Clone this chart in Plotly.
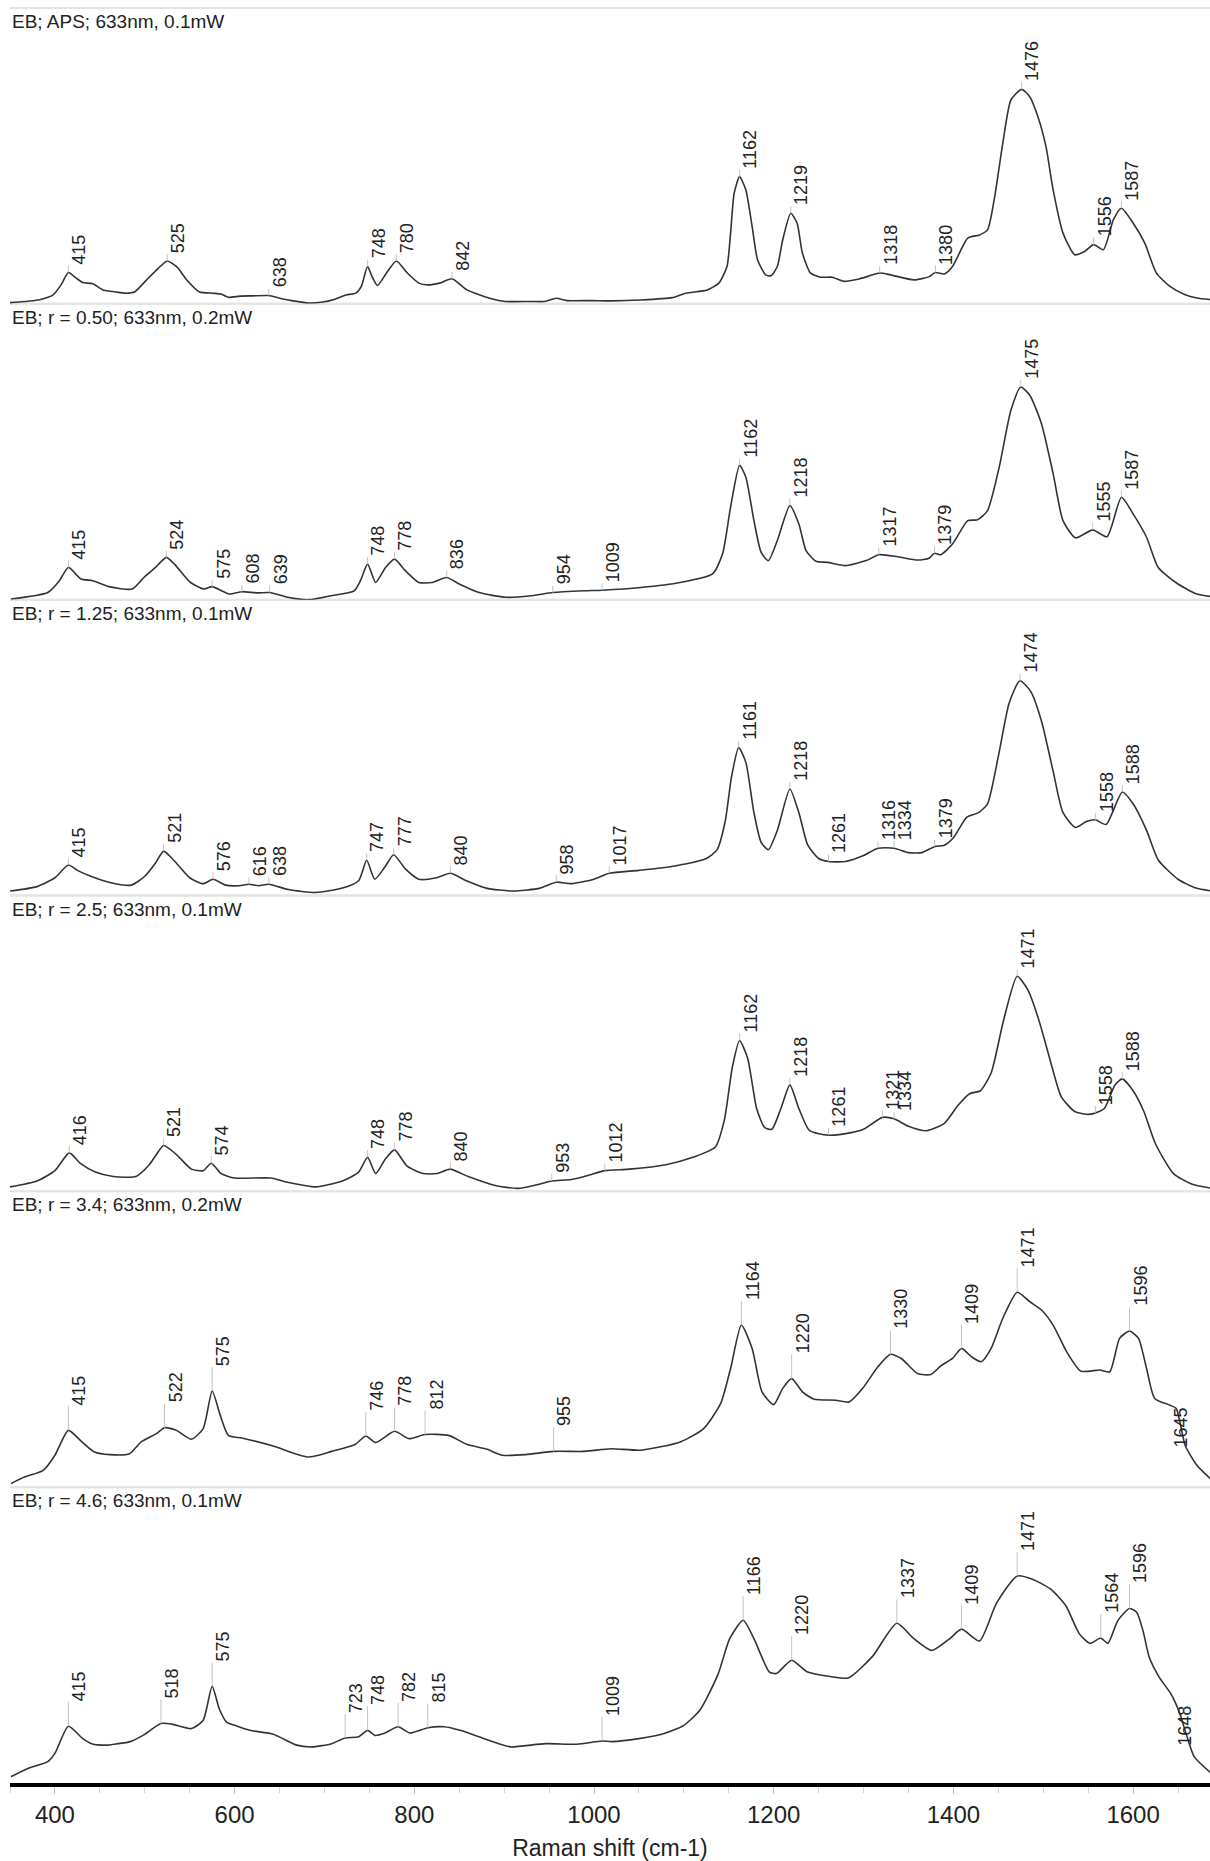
import numpy as np
import plotly.graph_objects as go
from plotly.subplots import make_subplots

# ---------------- data (relative intensity, % of panel height) ----------------
titles = [
    "EB; APS; 633nm, 0.1mW",
    "EB; r = 0.50; 633nm, 0.2mW",
    "EB; r = 1.25; 633nm, 0.1mW",
    "EB; r = 2.5; 633nm, 0.1mW",
    "EB; r = 3.4; 633nm, 0.2mW",
    "EB; r = 4.6; 633nm, 0.1mW",
]

p1_x = [350, 383, 398, 407, 415, 424, 431, 442, 453, 468, 479, 489, 502, 515, 525, 536, 547, 561, 576, 585,
        593, 606, 620, 638, 650, 665, 683, 698, 710, 724, 735, 741, 748, 753, 759, 769, 780, 792, 805, 815,
        828, 842, 858, 873, 884, 901, 930, 945, 958, 970, 997, 1020, 1052, 1087, 1102, 1126, 1139, 1148, 1152, 1156,
        1162, 1169, 1176, 1182, 1191, 1197, 1204, 1210, 1219, 1226, 1232, 1241, 1252, 1265, 1278, 1295, 1318, 1330, 1356, 1373,
        1380, 1390, 1399, 1416, 1429, 1438, 1446, 1455, 1464, 1476, 1485, 1494, 1503, 1511, 1522, 1535, 1546, 1556, 1567, 1578,
        1587, 1600, 1613, 1626, 1641, 1658, 1671, 1688]
p1_y = [0.4, 1.4, 3.0, 6.5, 10.6, 8.6, 7.2, 6.8, 4.8, 4.0, 3.6, 4.1, 8.1, 12.0, 14.5, 12.4, 8.0, 4.0, 3.6, 3.3,
        2.2, 2.6, 2.7, 2.8, 1.9, 1.0, 0.3, 0.6, 1.4, 3.0, 3.6, 5.9, 12.6, 9.2, 6.2, 10.4, 14.5, 10.5, 7.0, 6.4,
        7.0, 8.5, 4.8, 3.0, 1.9, 0.8, 0.8, 0.8, 1.9, 1.1, 1.1, 1.0, 1.3, 2.1, 3.6, 4.7, 7.0, 12.6, 23.9, 37.4,
        43.0, 38.5, 26.1, 14.9, 9.8, 9.5, 12.6, 21.6, 30.6, 27.3, 17.1, 10.4, 9.0, 9.0, 7.6, 8.4, 10.4, 9.8, 8.1, 9.2,
        10.6, 10.1, 12.6, 22.2, 23.3, 25.0, 36.3, 54.3, 68.9, 72.5, 70.0, 63.3, 53.2, 38.5, 23.9, 16.6, 17.7, 20.0, 18.3, 28.4,
        32.3, 27.3, 20.5, 10.4, 5.9, 3.1, 2.0, 1.4]

p2_x = [351, 392, 405, 415, 429, 442, 460, 486, 499, 512, 524, 533, 551, 566, 575, 594, 608, 625, 639, 659,
        683, 707, 733, 740, 748, 757, 768, 778, 790, 805, 820, 836, 850, 872, 902, 930, 954, 989, 1009, 1052,
        1096, 1132, 1143, 1152, 1162, 1169, 1178, 1186, 1194, 1204, 1218, 1228, 1236, 1247, 1260, 1280, 1303, 1317, 1338, 1360,
        1373, 1379, 1386, 1399, 1416, 1427, 1438, 1451, 1464, 1475, 1485, 1498, 1511, 1522, 1536, 1555, 1571, 1587, 1600, 1615,
        1628, 1650, 1671, 1688]
p2_y = [0.2, 2.4, 6.4, 10.9, 7.0, 6.4, 4.4, 3.6, 7.5, 10.9, 14.3, 12.0, 5.8, 3.6, 4.4, 1.9, 2.7, 2.3, 2.4, 0.8,
        0.0, 1.3, 3.0, 6.4, 12.0, 5.8, 10.9, 13.7, 9.8, 5.8, 5.8, 7.5, 5.3, 2.4, 0.8, 1.3, 2.4, 3.0, 3.2, 4.1,
        5.8, 8.7, 15.4, 31.3, 45.4, 41.4, 26.7, 16.0, 13.2, 20.0, 31.8, 25.6, 16.6, 13.0, 12.6, 11.5, 13.2, 15.2, 14.5, 13.4,
        14.0, 15.7, 15.2, 18.8, 26.7, 27.0, 30.1, 44.8, 64.0, 71.9, 69.1, 59.5, 42.6, 26.7, 20.9, 23.6, 21.3, 34.6, 29.0, 21.1,
        10.9, 5.3, 1.9, 1.0]

p3_x = [350, 380, 400, 415, 425, 440, 460, 485, 500, 512, 521, 532, 550, 565, 576, 590, 605, 616, 627, 638,
        660, 690, 720, 738, 747, 756, 768, 777, 790, 805, 825, 840, 858, 880, 910, 940, 958, 975, 1000, 1017,
        1050, 1090, 1125, 1137, 1146, 1153, 1161, 1169, 1178, 1186, 1194, 1204, 1218, 1228, 1238, 1250, 1261, 1280, 1300, 1316,
        1334, 1350, 1365, 1379, 1390, 1400, 1415, 1428, 1438, 1450, 1462, 1474, 1486, 1498, 1511, 1522, 1536, 1548, 1558, 1570,
        1588, 1600, 1615, 1628, 1650, 1670, 1688]
p3_y = [1.5, 3.0, 6.0, 10.3, 8.5, 6.5, 4.5, 3.5, 6.5, 11.0, 15.0, 12.0, 6.0, 4.0, 5.5, 3.5, 3.3, 3.8, 3.3, 3.8,
        2.0, 1.0, 2.5, 5.0, 11.9, 5.5, 10.0, 13.8, 9.0, 5.5, 6.0, 7.5, 5.0, 2.5, 1.5, 2.5, 4.5, 4.0, 5.5, 7.5,
        8.5, 10.0, 12.5, 15.5, 25.0, 40.0, 50.0, 45.0, 28.0, 18.0, 15.5, 22.0, 36.0, 28.0, 17.0, 12.5, 11.5, 11.5, 13.5, 16.0,
        16.0, 14.5, 14.5, 16.5, 17.0, 19.5, 26.5, 28.0, 31.0, 47.0, 65.0, 72.6, 69.0, 59.0, 42.0, 28.0, 23.0, 25.0, 25.6, 24.0,
        35.0, 31.0, 22.0, 12.0, 5.5, 2.5, 1.5]

p4_x = [350, 380, 400, 416, 428, 445, 465, 490, 505, 512, 521, 535, 552, 565, 574, 585, 600, 640, 660, 690,
        720, 738, 748, 757, 768, 778, 792, 810, 825, 840, 860, 890, 915, 940, 953, 975, 995, 1012, 1040, 1080,
        1110, 1135, 1145, 1154, 1162, 1171, 1181, 1190, 1198, 1208, 1218, 1228, 1240, 1261, 1280, 1300, 1321, 1334, 1350, 1370,
        1390, 1405, 1418, 1430, 1442, 1456, 1471, 1483, 1495, 1508, 1520, 1535, 1550, 1558, 1568, 1580, 1588, 1600, 1612, 1625,
        1645, 1665, 1688]
p4_y = [1.5, 3.5, 7.0, 13.0, 9.5, 6.5, 5.0, 5.0, 9.0, 12.0, 15.5, 12.5, 7.5, 7.0, 9.5, 6.0, 4.5, 4.5, 3.0, 1.5,
        3.5, 6.5, 11.5, 6.0, 11.0, 14.0, 8.5, 6.0, 6.0, 7.5, 5.0, 2.0, 1.0, 2.5, 3.5, 4.0, 5.5, 7.0, 7.5, 9.0,
        11.5, 15.0, 24.0, 42.0, 51.0, 45.0, 28.0, 21.5, 21.0, 28.0, 36.0, 28.0, 20.5, 19.0, 19.5, 21.0, 25.0, 24.5, 22.0, 20.5,
        23.0, 29.0, 33.0, 34.0, 40.0, 58.0, 72.7, 68.0, 58.0, 44.0, 32.0, 27.0, 26.0, 26.5, 28.0, 36.0, 38.0, 34.0, 27.0, 16.0,
        6.0, 2.5, 1.0]

p5_x = [351, 366, 387, 400, 415, 430, 444, 461, 483, 496, 513, 522, 535, 552, 565, 575, 584, 593, 608, 643,
        682, 708, 734, 746, 757, 778, 794, 812, 838, 859, 881, 898, 924, 955, 989, 1019, 1052, 1096, 1122, 1141,
        1152, 1164, 1176, 1187, 1200, 1210, 1220, 1232, 1245, 1269, 1284, 1299, 1316, 1330, 1342, 1360, 1375, 1386, 1399, 1409,
        1420, 1431, 1442, 1455, 1471, 1485, 1498, 1511, 1526, 1542, 1563, 1574, 1585, 1596, 1606, 1615, 1624, 1641, 1648, 1658,
        1671, 1688]
p5_y = [1.2, 3.4, 5.7, 10.8, 19.2, 15.3, 11.9, 11.0, 11.3, 15.3, 18.1, 20.1, 19.2, 16.2, 19.8, 32.5, 24.3, 17.5, 16.6, 13.9,
        10.2, 12.1, 14.4, 17.3, 15.1, 18.9, 16.4, 17.8, 17.5, 14.4, 12.8, 10.8, 11.0, 12.1, 12.1, 13.0, 12.5, 15.3, 19.8, 28.3,
        40.1, 54.8, 46.9, 32.2, 27.9, 33.4, 36.7, 32.2, 29.7, 29.4, 28.8, 33.4, 40.7, 44.9, 43.5, 38.4, 38.1, 41.0, 43.5, 46.9,
        44.1, 42.4, 46.9, 57.1, 65.9, 62.7, 59.9, 54.8, 45.8, 39.2, 39.6, 39.0, 50.3, 52.8, 50.3, 40.1, 30.0, 27.7, 26.6, 14.1,
        7.4, 2.3]

p6_x = [351, 370, 392, 400, 415, 431, 441, 457, 470, 483, 498, 518, 530, 552, 565, 575, 583, 591, 600, 617,
        643, 669, 686, 708, 723, 738, 748, 756, 766, 782, 795, 815, 833, 851, 872, 894, 907, 946, 981, 1009,
        1020, 1050, 1078, 1100, 1118, 1138, 1151, 1166, 1178, 1195, 1203, 1220, 1237, 1263, 1283, 1310, 1337, 1356, 1376, 1396,
        1409, 1429, 1448, 1471, 1488, 1508, 1525, 1540, 1552, 1564, 1572, 1583, 1596, 1604, 1611, 1618, 1629, 1642, 1648, 1652,
        1659, 1668, 1688]
p6_y = [2.1, 4.9, 7.2, 10.0, 19.2, 15.0, 13.3, 12.8, 13.3, 13.9, 16.1, 20.1, 19.9, 18.4, 21.2, 32.7, 25.0, 20.6, 19.5, 17.8,
        16.5, 12.8, 12.2, 13.3, 15.2, 15.6, 17.8, 16.1, 16.7, 19.0, 16.9, 18.7, 19.0, 17.8, 15.6, 13.3, 12.2, 13.3, 13.1, 14.2,
        14.0, 15.0, 16.7, 19.5, 24.7, 36.7, 48.8, 55.0, 48.8, 37.6, 37.0, 41.5, 37.6, 36.0, 35.5, 42.8, 54.0, 48.8, 44.8, 48.8,
        52.0, 48.0, 60.8, 70.0, 68.9, 65.6, 60.0, 50.5, 47.2, 49.0, 47.2, 54.9, 59.0, 57.7, 51.5, 42.5, 35.8, 30.2, 26.5, 23.5,
        16.7, 8.9, 3.0]

p1_peaks = [415, 525, 638, 748, 780, 842, 1162, 1219, 1318, 1380, 1476, 1556, 1587]
p2_peaks = [415, 524, 575, 608, 639, 748, 778, 836, 954, 1009, 1162, 1218, 1317, 1379, 1475, 1555, 1587]
p3_peaks = [415, 521, 576, 616, 638, 747, 777, 840, 958, 1017, 1161, 1218, 1261, 1316, 1334, 1379, 1474, 1558, 1588]
p4_peaks = [416, 521, 574, 748, 778, 840, 953, 1012, 1162, 1218, 1261, 1321, 1334, 1471, 1558, 1588]
p5_peaks = [415, 522, 575, 746, 778, 812, 955, 1164, 1220, 1330, 1409, 1471, 1596, 1645]
p6_peaks = [415, 518, 575, 723, 748, 782, 815, 1009, 1166, 1220, 1337, 1409, 1471, 1564, 1596, 1648]

x_ticks = [400, 600, 800, 1000, 1200, 1400, 1600]
x_title = "Raman shift (cm-1)"

# ---------------- styling ----------------
W, H = 1210, 1861
ML, MR, MT, MB = 10, 0, 8, 78
X_RANGE = [350, 1685.6]
FONT = "Arial, Liberation Sans, Helvetica, sans-serif"
CURVE = "#333333"
LEADER = "#c4c4c4"
SEP = "#e4e4e4"
lead_px = [7, 7, 7, 7, 24, 24]         # leader length per panel (pixels)
below_labels = {1645, 1648}             # labels drawn under the curve

panels = [(p1_x, p1_y, p1_peaks), (p2_x, p2_y, p2_peaks), (p3_x, p3_y, p3_peaks),
          (p4_x, p4_y, p4_peaks), (p5_x, p5_y, p5_peaks), (p6_x, p6_y, p6_peaks)]
N = len(panels)
panel_px = (H - MT - MB) / N

fig = make_subplots(rows=N, cols=1, shared_xaxes=True, vertical_spacing=0)

annotations = []
shapes = []
for i, (xs, ys, peaks) in enumerate(panels):
    r = i + 1
    fig.add_trace(go.Scatter(x=xs, y=ys, mode="lines",
                             line=dict(color=CURVE, width=1.6, shape="spline", smoothing=0.6),
                             hoverinfo="skip", showlegend=False), row=r, col=1)
    yv = np.interp(peaks, xs, ys)
    lead = lead_px[i] / panel_px * 100.0
    lx, ly = [], []
    for p, v in zip(peaks, yv):
        if p in below_labels:
            continue
        lx += [p, p, None]
        ly += [v, v + lead, None]
    fig.add_trace(go.Scatter(x=lx, y=ly, mode="lines",
                             line=dict(color=LEADER, width=1),
                             hoverinfo="skip", showlegend=False), row=r, col=1)
    xref = "x" if r == 1 else f"x{r}"
    yref = "y" if r == 1 else f"y{r}"
    for p, v in zip(peaks, yv):
        below = p in below_labels
        annotations.append(dict(
            x=p, y=v if below else v + lead, xref=xref, yref=yref,
            text=str(p), textangle=-90, showarrow=False,
            xanchor="left", yanchor="top" if below else "bottom",
            xshift=-3 if below else 0,
            font=dict(family=FONT, size=18, color="#222222"),
            borderpad=0))
    annotations.append(dict(
        x=0, y=1, xref="paper", yref=f"{yref} domain",
        text=titles[i], showarrow=False, xanchor="left", yanchor="top",
        xshift=0, yshift=-1,
        font=dict(family=FONT, size=19, color="#222222")))
    shapes.append(dict(type="line", xref="paper", yref=f"{yref} domain",
                       x0=0, x1=1, y0=1, y1=1, line=dict(color=SEP, width=2), layer="below"))
    fig.update_yaxes(range=[0, 100], visible=False, row=r, col=1)
    fig.update_xaxes(range=X_RANGE, showgrid=False, zeroline=False, row=r, col=1)
    if r < N:
        shapes.append(dict(type="line", xref="paper", yref=f"{yref} domain",
                           x0=0, x1=1, y0=0, y1=0, line=dict(color=SEP, width=2), layer="below"))
        fig.update_xaxes(showticklabels=False, ticks="", showline=False, row=r, col=1)

fig.update_xaxes(
    row=N, col=1,
    tickmode="linear", tick0=400, dtick=200,
    ticks="outside", ticklen=7, tickwidth=1, tickcolor="#c0c0c0",
    minor=dict(dtick=50, tick0=400, ticks="outside", ticklen=6, tickwidth=1, tickcolor="#d0d0d0"),
    showline=True, linecolor="black", linewidth=4,
    tickfont=dict(family=FONT, size=24, color="#222222"),
    title=dict(text=x_title, font=dict(family=FONT, size=23, color="#222222"), standoff=16),
)

fig.update_layout(
    width=W, height=H,
    margin=dict(l=ML, r=MR, t=MT, b=MB),
    paper_bgcolor="white", plot_bgcolor="white",
    annotations=annotations, shapes=shapes,
    showlegend=False,
)

fig.write_html("out.html",
               config={"displayModeBar": False, "staticPlot": True},
               post_script="document.body.style.margin='0px';document.body.style.overflow='hidden';")
